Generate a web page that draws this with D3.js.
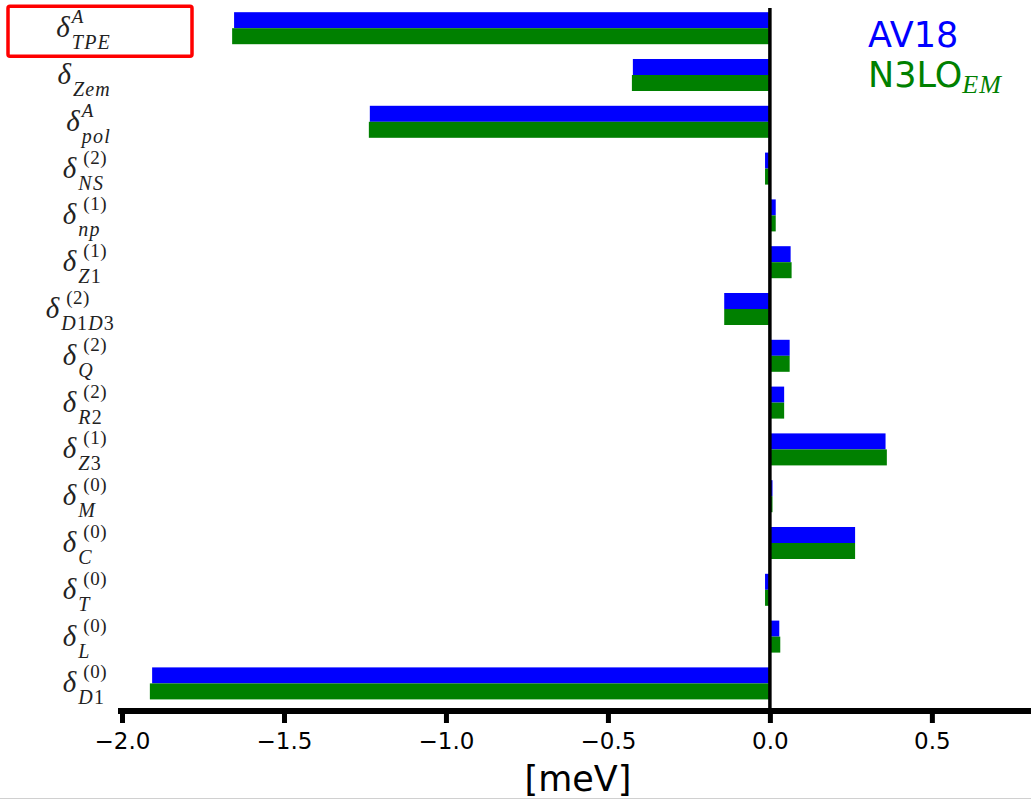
<!DOCTYPE html>
<html>
<head>
<meta charset="utf-8">
<script src="https://cdn.jsdelivr.net/npm/d3@7"></script>
<style>
  body { margin: 0; background: #fff; }
  svg { display: block; }
  .math { font-family: "Liberation Serif", "DejaVu Serif", serif; fill: #222; }
  .axis text { font-family: "DejaVu Sans", sans-serif; font-size: 23px; fill: #000; }
</style>
</head>
<body>
<div id="root"></div>
<script>
const WIDTH = 1031;
const HEIGHT = 800;

// categories top to bottom: delta label = sub / sup
const categories = ['TPE', 'Zem', 'pol', 'NS', 'np', 'Z1', 'D1D3', 'Q', 'R2', 'Z3', 'M', 'C', 'T', 'L', 'D1'];
const supLabels = ['A', '', 'A', '(2)', '(1)', '(1)', '(2)', '(2)', '(2)', '(1)', '(0)', '(0)', '(0)', '(0)', '(0)'];
const subLabels = ['TPE', 'Zem', 'pol', 'NS', 'np', 'Z1', 'D1D3', 'Q', 'R2', 'Z3', 'M', 'C', 'T', 'L', 'D1'];

const series = ['AV18', 'N3LO'];
const av18 = [-1.654, -0.423, -1.235, -0.015, 0.018, 0.064, -0.141, 0.061, 0.044, 0.357, 0.008, 0.263, -0.015, 0.029, -1.907];
const n3lo = [-1.660, -0.426, -1.238, -0.015, 0.018, 0.067, -0.141, 0.061, 0.044, 0.361, 0.008, 0.263, -0.015, 0.032, -1.914];

const xTicks = [-2.0, -1.5, -1.0, -0.5, 0.0, 0.5];
const color = d3.scaleOrdinal().domain(series).range(['#0000ff', '#008000']);

const x = d3.scaleLinear().domain([-2, 0.806]).range([122, 1031]);
const y = d3.scaleBand().domain(categories).range([4.8, 706.8])
    .paddingInner(0.316).paddingOuter(0.158);
const ySub = d3.scaleBand().domain(series).range([0, y.bandwidth()]);

const svg = d3.select('#root').append('svg')
    .attr('width', WIDTH)
    .attr('height', HEIGHT);

const rows = categories.map((c, i) => ({ cat: c, values: [av18[i], n3lo[i]] }));

// bars
const row = svg.selectAll('.row')
    .data(rows)
  .enter().append('g')
    .attr('class', 'row')
    .attr('transform', d => `translate(0, ${y(d.cat)})`);

row.selectAll('rect')
    .data(d => series.map((s, j) => ({ s, v: d.values[j] })))
  .enter().append('rect')
    .attr('x', d => x(Math.min(0, d.v)))
    .attr('width', d => Math.abs(x(d.v) - x(0)))
    .attr('y', d => ySub(d.s))
    .attr('height', ySub.bandwidth())
    .attr('fill', d => color(d.s));

// zero line
svg.append('line')
    .attr('x1', x(0)).attr('x2', x(0))
    .attr('y1', 8).attr('y2', 711)
    .attr('stroke', '#000')
    .attr('stroke-width', 3.5);

// x axis
const xAxis = d3.axisBottom(x)
    .tickValues(xTicks)
    .tickFormat(d3.format('.1f'))
    .tickSize(12)
    .tickSizeOuter(0)
    .tickPadding(10);

const gx = svg.append('g')
    .attr('class', 'axis')
    .attr('transform', 'translate(0, 711)')
    .call(xAxis);
gx.select('.domain')
    .attr('d', `M${x(-2) - 4},0H${WIDTH}`)
    .attr('stroke', '#000')
    .attr('stroke-width', 6);
gx.selectAll('.tick line')
    .attr('stroke', '#000')
    .attr('stroke-width', 5);

svg.append('text')
    .attr('x', 578)
    .attr('y', 791)
    .attr('text-anchor', 'middle')
    .style('font-family', '"DejaVu Sans", sans-serif')
    .style('font-size', '35px')
    .text('[meV]');

// y labels: delta with stacked sup / sub
function addChars(txt, str) {
    str.split('').forEach(ch => {
        txt.append('tspan')
            .style('font-style', /[0-9()]/.test(ch) ? 'normal' : 'italic')
            .text(ch);
    });
}

categories.forEach((c, i) => {
    const g = svg.append('g')
        .attr('class', 'math');
    const cy = y(c) + y.bandwidth() / 2;
    const delta = g.append('text')
        .attr('x', 0).attr('y', cy + 9)
        .style('font-size', '29px')
        .style('font-style', 'italic')
        .text('δ');
    const dw = delta.node().getComputedTextLength();
    if (supLabels[i]) {
        const sup = g.append('text')
            .attr('x', dw + (supLabels[i] === 'A' ? 2 : 7)).attr('y', cy - 5)
            .style('font-size', '19px')
            .style('letter-spacing', '0.5px');
        addChars(sup, supLabels[i]);
    }
    const sub = g.append('text')
        .attr('x', dw + 2).attr('y', cy + 21)
        .style('font-size', '20px')
        .style('letter-spacing', '1.2px');
    addChars(sub, subLabels[i]);
    const bb = g.node().getBBox();
    // longer labels stick out a little further to the right, as in the source
    const right = 107 + Math.max(0, subLabels[i].length - 2) * 4;
    g.attr('transform', `translate(${right - (bb.x + bb.width)}, 0)`);
});

// highlight box around first label
const c0 = y(categories[0]) + y.bandwidth() / 2;
svg.append('rect')
    .attr('x', 8)
    .attr('y', c0 - 22)
    .attr('width', 184)
    .attr('height', 50)
    .attr('rx', 2)
    .attr('fill', 'none')
    .attr('stroke', '#ff0000')
    .attr('stroke-width', 3.5);

// legend as coloured text
const legend = svg.append('g').attr('transform', 'translate(868, 0)');
legend.append('text')
    .attr('y', 47)
    .style('font-family', '"DejaVu Sans", sans-serif')
    .style('font-size', '35px')
    .attr('fill', color('AV18'))
    .text('AV18');
const l2 = legend.append('text')
    .attr('y', 87)
    .style('font-family', '"DejaVu Sans", sans-serif')
    .style('font-size', '35px')
    .attr('fill', color('N3LO'));
l2.append('tspan').text('N3LO');
l2.append('tspan')
    .attr('dy', 6)
    .style('font-family', '"Liberation Serif", serif')
    .style('font-style', 'italic')
    .style('font-size', '26px')
    .style('letter-spacing', '1px')
    .text('EM');

// bottom edge of the capture
svg.append('line')
    .attr('x1', 0).attr('x2', WIDTH)
    .attr('y1', 798.5).attr('y2', 798.5)
    .attr('stroke', '#d0d0d0')
    .attr('stroke-width', 1);
</script>
</body>
</html>
